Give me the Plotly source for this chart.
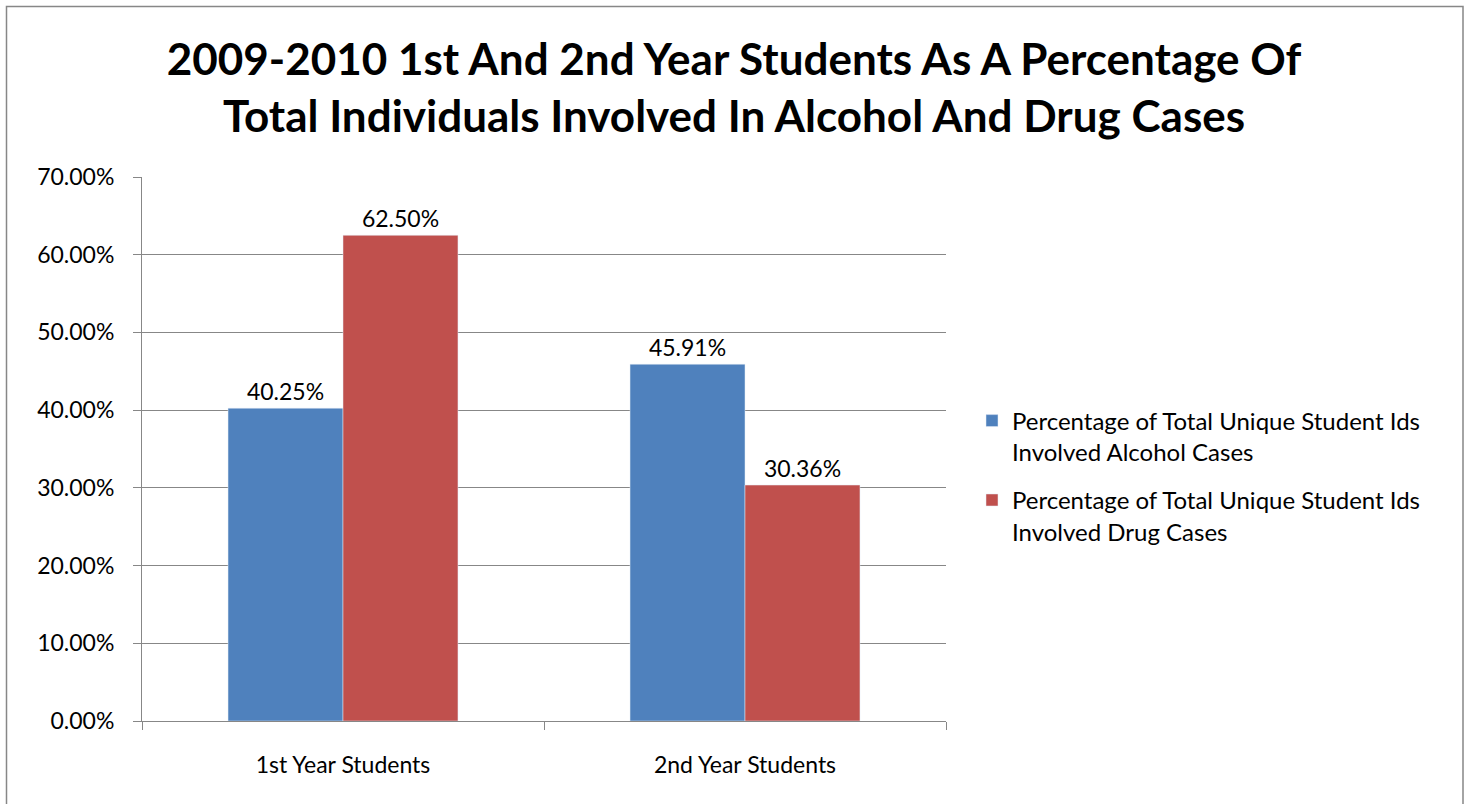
import plotly.graph_objects as go

categories = ["1st Year Students", "2nd Year Students"]
alcohol = [0.4025, 0.4591]
drug = [0.6250, 0.3036]
series_names = [
    "Percentage of Total Unique Student Ids<br>Involved Alcohol Cases",
    "Percentage of Total Unique Student Ids<br>Involved Drug Cases",
]
y_ticks = [0, 0.1, 0.2, 0.3, 0.4, 0.5, 0.6, 0.7]
title = "2009-2010 1st And 2nd Year Students As A Percentage Of<br>Total Individuals Involved In Alcohol And Drug Cases"

FONT = "Lato"
FS = 23
fig = go.Figure()
fig.add_trace(go.Bar(x=categories, y=alcohol, name=series_names[0], marker_color="#4F81BD",
                     legendgroup="alc",
                     text=[f"{v:.2%}" for v in alcohol], textposition="outside",
                     textfont=dict(size=FS, color="#000000", family=FONT), cliponaxis=False))
fig.add_trace(go.Bar(x=categories, y=drug, name=series_names[1], marker_color="#C0504D",
                     legendgroup="drg",
                     text=[f"{v:.2%}" for v in drug], textposition="outside",
                     textfont=dict(size=FS, color="#000000", family=FONT), cliponaxis=False))

W, H = 1468, 804
L, R, T, B = 142, 522, 177, 83
pw, ph = W - L - R, H - T - B

def px2paper_x(px):
    return (px - L) / pw

def px2paper_y(py):
    return (H - B - py) / ph

fig.update_layout(
    width=W, height=H,
    margin=dict(l=L, r=R, t=T, b=B),
    paper_bgcolor="white", plot_bgcolor="white",
    barmode="group", bargap=0.428, bargroupgap=0,
    title=dict(text="<b>" + title + "</b>", x=0.5, xref="container", xanchor="center",
               y=1 - 75 / H, yref="container", yanchor="middle",
               font=dict(family=FONT, size=44, color="#000000")),
    font=dict(family=FONT, size=FS, color="#000000"),
    legend=dict(x=px2paper_x(972), xanchor="left", y=px2paper_y(476), yanchor="middle",
                font=dict(size=24, family=FONT), tracegroupgap=14,
                traceorder="grouped", valign="top", itemwidth=30),
    showlegend=True,
    yaxis=dict(range=[0, 0.7], tickvals=y_ticks, tickformat=".2%",
               showgrid=True, gridcolor="#878787", gridwidth=1,
               showline=True, linecolor="#878787", linewidth=1,
               ticks="outside", ticklen=8, tickcolor="#878787",
               ticklabelstandoff=14,
               tickfont=dict(size=FS, family=FONT), zeroline=False),
    xaxis=dict(showline=True, linecolor="#878787", linewidth=1,
               ticks="outside", ticklen=8, tickcolor="#878787", tickson="boundaries",
               ticklabelstandoff=23,
               tickfont=dict(size=FS, family=FONT)),
    shapes=[dict(type="rect", xref="paper", yref="paper",
                 x0=px2paper_x(6.5), x1=px2paper_x(1463), y0=px2paper_y(830), y1=px2paper_y(6.5),
                 line=dict(color="#878787", width=1.5), fillcolor="rgba(0,0,0,0)", layer="below")],
)

fig.write_html("out.html", config={"displayModeBar": False},
               post_script="document.body.style.margin='0';")
